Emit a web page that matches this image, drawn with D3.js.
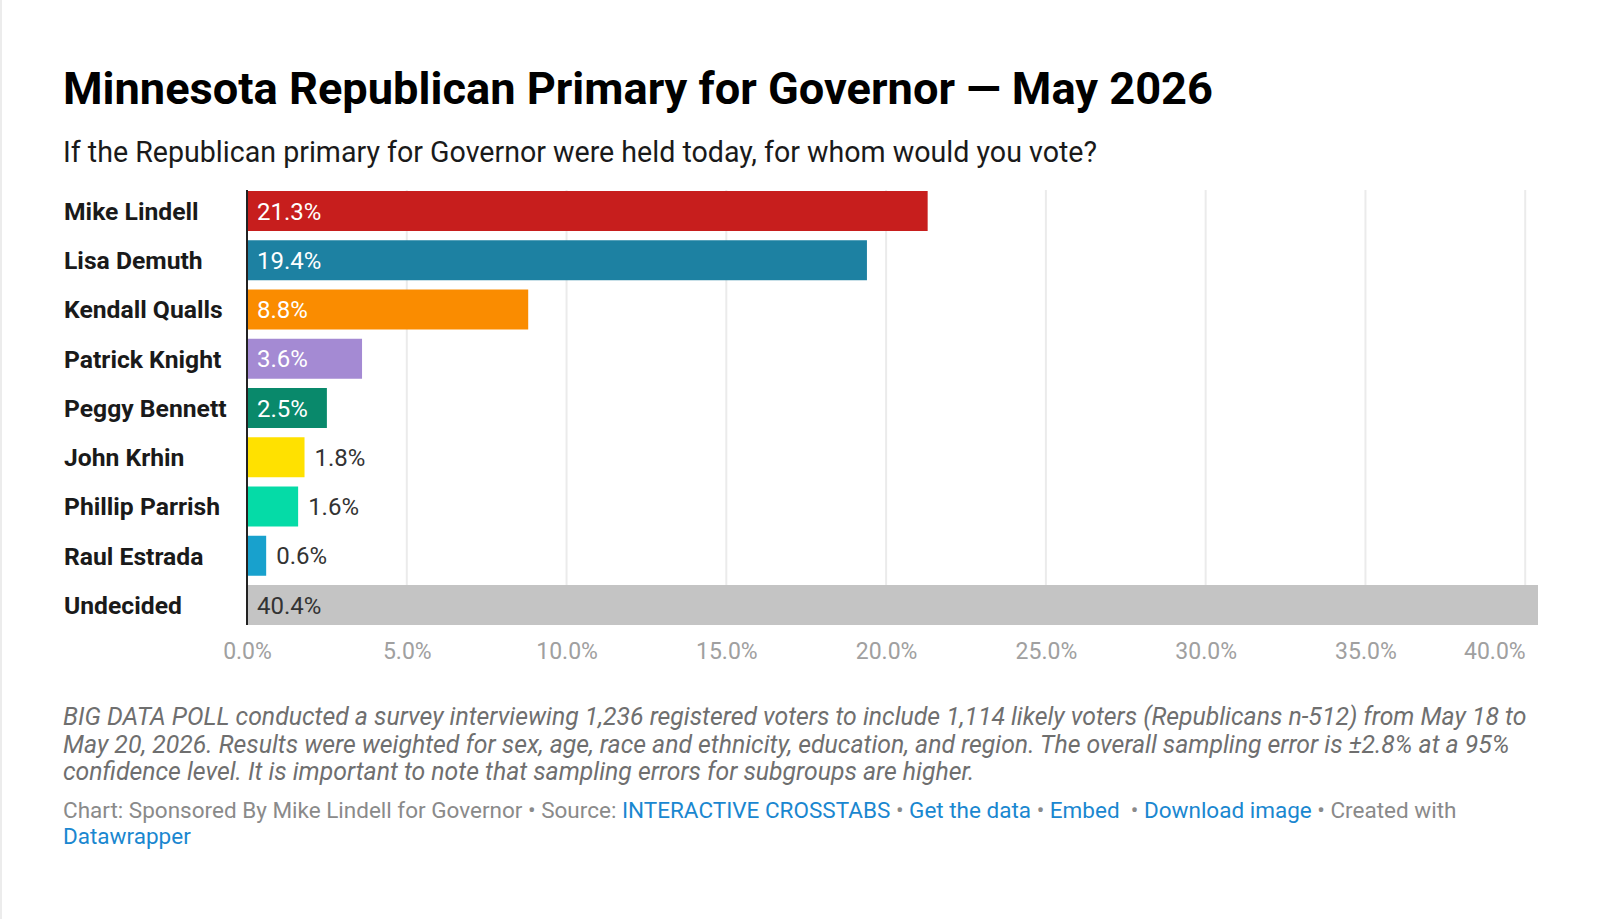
<!DOCTYPE html>
<html>
<head>
<meta charset="utf-8">
<script src="https://cdn.jsdelivr.net/npm/d3@7"></script>
<style>
  body { margin: 0; background: #fff; }
  svg { display: block; font-family: Roboto, "Noto Sans", sans-serif; }
</style>
</head>
<body>
<svg id="chart" width="1600" height="919"></svg>
<script>
// data
var candidates = ["Mike Lindell", "Lisa Demuth", "Kendall Qualls", "Patrick Knight",
  "Peggy Bennett", "John Krhin", "Phillip Parrish", "Raul Estrada", "Undecided"];
var shares = [21.3, 19.4, 8.8, 3.6, 2.5, 1.8, 1.6, 0.6, 40.4];
var barColors = ["#c71e1d", "#1d81a2", "#fa8c00", "#a48ad3", "#09896b",
  "#ffe100", "#05dba7", "#18a1cd", "#c4c4c4"];
var tickValues = [0, 5, 10, 15, 20, 25, 30, 35, 40];

var title = "Minnesota Republican Primary for Governor \u2014 May 2026";
var subtitle = "If the Republican primary for Governor were held today, for whom would you vote?";
var notes = [
  "BIG DATA POLL conducted a survey interviewing 1,236 registered voters to include 1,114 likely voters (Republicans n-512) from May 18 to",
  "May 20, 2026. Results were weighted for sex, age, race and ethnicity, education, and region. The overall sampling error is \u00b12.8% at a 95%",
  "confidence level. It is important to note that sampling errors for subgroups are higher."
];

var svg = d3.select("#chart");

// faint frame line on the left like the screenshot
svg.append("line")
  .attr("x1", 1).attr("x2", 1).attr("y1", 0).attr("y2", 919)
  .attr("stroke", "#ececec").attr("stroke-width", 2);

var left = 63;

svg.append("text")
  .attr("x", left).attr("y", 104)
  .attr("font-size", 45.2).attr("font-weight", 700).attr("fill", "#000")
  .text(title);

svg.append("text")
  .attr("x", left).attr("y", 162)
  .attr("font-size", 28.6).attr("fill", "#1a1a1a")
  .text(subtitle);

// scales
var x = d3.scaleLinear().domain([0, d3.max(shares)]).range([247, 1538]);
var y = d3.scaleBand().domain(candidates).range([191, 625]).paddingInner(0.188);

// gridlines
svg.append("g").selectAll("line")
  .data(tickValues.slice(1))
  .join("line")
  .attr("x1", d => x(d)).attr("x2", d => x(d))
  .attr("y1", 190).attr("y2", 625)
  .attr("stroke", "#ebebeb").attr("stroke-width", 2);

// bars
svg.append("g").selectAll("rect")
  .data(candidates)
  .join("rect")
  .attr("x", x(0))
  .attr("y", d => y(d))
  .attr("width", (d, i) => x(shares[i]) - x(0))
  .attr("height", y.bandwidth())
  .attr("fill", (d, i) => barColors[i]);

// zero line
svg.append("line")
  .attr("x1", x(0)).attr("x2", x(0))
  .attr("y1", 190).attr("y2", 625)
  .attr("stroke", "#222").attr("stroke-width", 2);

// category labels
svg.append("g").selectAll("text")
  .data(candidates)
  .join("text")
  .attr("x", left + 1)
  .attr("y", d => y(d) + y.bandwidth() / 2)
  .attr("dy", "0.36em")
  .attr("font-size", 24.7).attr("font-weight", 700).attr("fill", "#1a1a1a")
  .text(d => d);

// value labels - inside when the bar is wide enough
var inside = (v) => x(v) - x(0) > 70;
svg.append("g").selectAll("text")
  .data(candidates)
  .join("text")
  .attr("x", (d, i) => inside(shares[i]) ? x(0) + 10 : x(shares[i]) + 10)
  .attr("y", d => y(d) + y.bandwidth() / 2)
  .attr("dy", "0.36em")
  .attr("font-size", 24)
  .attr("fill", (d, i) => (inside(shares[i]) && d != "Undecided") ? "#fff" : "#333")
  .text((d, i) => shares[i].toFixed(1) + "%");

// x axis, last label pulled in so it ends on its gridline
var xAxis = d3.axisBottom(x).tickValues(tickValues).tickSize(0).tickPadding(0)
  .tickFormat(d => d3.format(".1f")(d) + "%");
var ax = svg.append("g").attr("transform", "translate(0,643)").call(xAxis);
ax.select(".domain").remove();
ax.selectAll("text")
  .attr("font-family", "Roboto, sans-serif")
  .attr("font-size", 23).attr("fill", "#a0a0a0")
  .attr("text-anchor", d => d == 40 ? "end" : "middle");

// notes
svg.append("g").selectAll("text")
  .data(notes)
  .join("text")
  .attr("x", left)
  .attr("y", (d, i) => 725 + i * 27.5)
  .attr("font-size", 24.8).attr("font-style", "italic").attr("fill", "#6f6f6f")
  .text(d => d);

// byline with links
var gray = "#8a8a8a", blue = "#1a87d0";
var byline = svg.append("text")
  .attr("x", left).attr("y", 818)
  .attr("font-size", 22.5);
[["Chart: Sponsored By Mike Lindell for Governor \u2022 Source: ", gray],
 ["INTERACTIVE CROSSTABS", blue], [" \u2022 ", gray], ["Get the data", blue],
 [" \u2022 ", gray], ["Embed", blue], ["  \u2022 ", gray], ["Download image", blue],
 [" \u2022 Created with", gray]].forEach(p => {
  byline.append("tspan").attr("fill", p[1]).attr("xml:space", "preserve").text(p[0]);
});
svg.append("text")
  .attr("x", left).attr("y", 844)
  .attr("font-size", 22.5).attr("fill", blue)
  .text("Datawrapper");
</script>
</body>
</html>
